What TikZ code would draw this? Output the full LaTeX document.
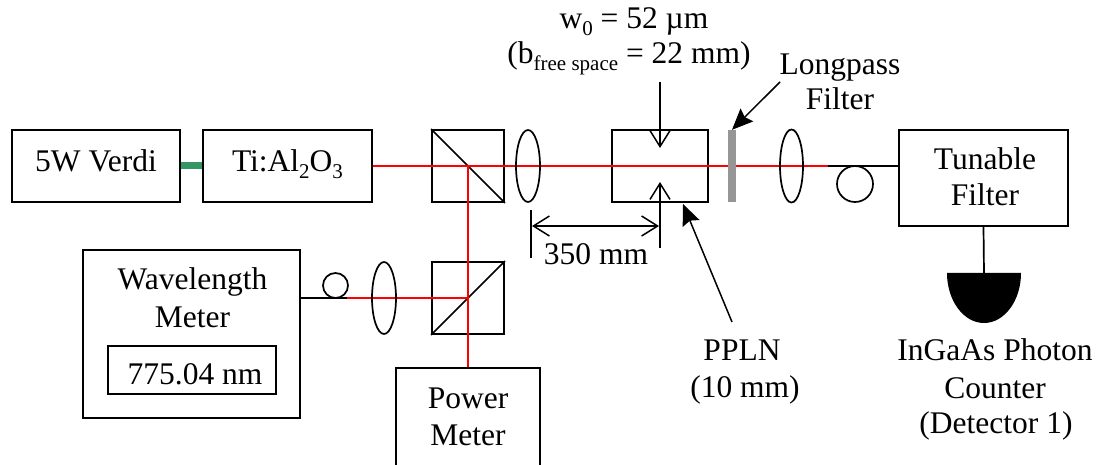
\documentclass[tikz,border=0pt]{standalone}
\usepackage{fontspec}
\setmainfont{Liberation Serif}
\usetikzlibrary{arrows.meta,shapes.geometric}
\definecolor{beamred}{RGB}{255,0,0}
\definecolor{pumpgreen}{RGB}{52,150,100}
\definecolor{filtergray}{RGB}{150,150,150}
\newcommand\lowsub[1]{\raisebox{-0.2em}{\fontsize{21}{21}\selectfont #1}}
\begin{document}
\begin{tikzpicture}[x=1pt,y=-1pt,
  box/.style={draw,line width=1.8pt,inner sep=0pt},
  txt/.style={anchor=base,inner sep=0pt,font=\fontsize{31.5}{37}\selectfont},
  beam/.style={draw=beamred,line width=1.8pt},
  fiber/.style={draw=black,line width=1.7pt},
  lens/.style={ellipse,draw,line width=1.7pt,inner sep=0pt,minimum width=24pt,minimum height=72pt},
  coil/.style={circle,draw,line width=1.7pt,inner sep=0pt},
  openarr/.style={line width=1.5pt,-{Straight Barb[length=16pt,width=20pt]}},
  dimarr/.style={line width=1.5pt,{Straight Barb[length=16pt,width=20pt]}-{Straight Barb[length=16pt,width=20pt]}},
  thin/.style={line width=1.5pt},
  fillarr/.style={line width=1.5pt,-{Stealth[length=21pt,width=18pt,inset=3pt]}}
]
\useasboundingbox (0,0) rectangle (1098,465);
\clip (0,0) rectangle (1098,465);
\fill[white] (0,0) rectangle (1098,465);

% boxes
\node[box,minimum width=168pt,minimum height=72pt] (verdi) at (96,166) {};
\node[box,minimum width=169pt,minimum height=72pt] (ti) at (287.5,166) {};
\node[box,minimum width=72pt,minimum height=72pt] (bs1) at (468,166) {};
\node[box,minimum width=96pt,minimum height=72pt] (ppln) at (660,166) {};
\node[box,minimum width=169pt,minimum height=96pt] (tunable) at (983.5,178) {};
\node[box,minimum width=217pt,minimum height=168pt] (wm) at (191.5,334) {};
\node[box,minimum width=168pt,minimum height=48pt] (wmdisp) at (192,370) {};
\node[box,minimum width=72pt,minimum height=72pt] (bs2) at (468,298) {};
\node[box,minimum width=144pt,minimum height=104pt] (power) at (468,420) {};

% beam splitter diagonals
\draw[line width=1.7pt] (bs1.north west) -- (bs1.south east);
\draw[line width=1.7pt] (bs2.south west) -- (bs2.north east);

% pump connection
\draw[draw=pumpgreen,line width=7pt] (verdi.east) -- (ti.west);

% coordinates of fibre ends
\coordinate (fibR) at (828,166);
\coordinate (fibL) at (347,298);

% beams
\draw[beam] (ti.east) -- (fibR);
\draw[beam] (bs1.center) -- (power.north);
\draw[beam] (bs2.center) -- (fibL);

% fibres
\draw[fiber] (fibR) -- (fibR -| tunable.west);
\draw[fiber] (fibL) -- (fibL -| wm.east);
\node[coil,minimum size=36pt] (coilR) at (855,184) {};
\node[coil,minimum size=25pt] (coilL) at (335.5,285.5) {};

% lenses
\node[lens] (lens1) at (528,166) {};
\node[lens] (lens2) at (384,298) {};
\node[lens,minimum width=23pt,minimum height=73pt] (lens3) at (791.5,166) {};

% longpass filter
\node[fill=filtergray,inner sep=0pt,minimum width=8pt,minimum height=72pt] (lpf) at (732,166) {};

% detector
\draw[fiber] (tunable.south) -- (984,273) coordinate (dettop);
\fill (947,273) -- (1021,273) arc[start angle=0,end angle=-180,x radius=37pt,y radius=50pt] -- cycle;

% waist arrows and dimension
\coordinate (wtopS) at (660,82);
\coordinate (wtopT) at (660,148);
\coordinate (wbotS) at (660,248);
\coordinate (wbotT) at (660,182);
\draw[openarr] (wtopS) -- (wtopT);
\draw[openarr] (wbotS) -- (wbotT);
\coordinate (tickT) at (531,210);
\coordinate (tickB) at (531,258);
\draw[thin] (tickT) -- (tickB);
\coordinate (dimL) at (532,226);
\coordinate (dimR) at (659,226);
\draw[dimarr] (dimL) -- (dimR);

% pointer arrows
\coordinate (lpS) at (780,82);
\coordinate (ppS) at (732,322);
\draw[fillarr] (lpS) -- (lpf.north);
\draw[fillarr] (ppS) -- (683,204) coordinate (ppT);

% texts
\node[txt] (tverdi) at (96,172) {5W Verdi};
\node[txt] (tti) at (287.5,172) {Ti:Al\lowsub{2}O\lowsub{3}};
\node[txt] (twm1) at (192.5,289) {Wavelength};
\node[txt] (twm2) at (192.5,327) {Meter};
\node[txt] (twm3) at (195,384) {775.04 nm};
\node[txt] (tpow1) at (468,408) {Power};
\node[txt] (tpow2) at (468,445) {Meter};
\node[txt] (tdim) at (596,265) {350 mm};
\node[txt] (tppln1) at (742,360) {PPLN};
\node[txt] (tppln2) at (745,397) {(10 mm)};
\node[txt] (ttun1) at (985,170) {Tunable};
\node[txt] (ttun2) at (985,206) {Filter};
\node[txt] (tdet1) at (995,360) {InGaAs Photon};
\node[txt] (tdet2) at (995,398) {Counter};
\node[txt] (tdet3) at (996,433) {(Detector 1)};
\node[txt] (tlp1) at (840,75) {Longpass};
\node[txt] (tlp2) at (840,110) {Filter};
\node[txt] (tw0) at (634,29) {w\lowsub{0} = 52 µm};
\node[txt] (tb) at (629,64) {(b\lowsub{free space} = 22 mm)};
\end{tikzpicture}
\end{document}
